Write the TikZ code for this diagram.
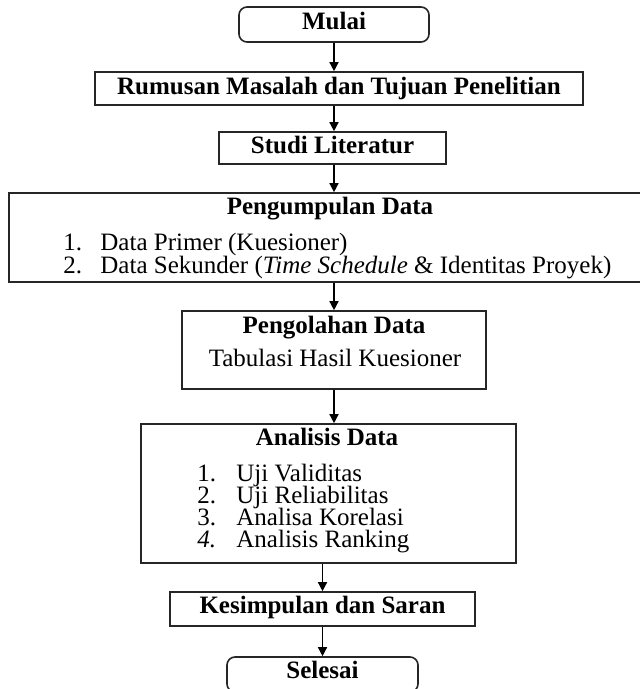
\documentclass[tikz,border=0pt]{standalone}
\usepackage{fontspec}
\setmainfont{Liberation Serif}
\usetikzlibrary{arrows.meta}
\begin{document}
\begin{tikzpicture}[x=0.5pt,y=-0.5pt,
  every node/.style={font=\fontsize{12.5}{15}\selectfont, inner sep=0pt},
  txt/.style={text height=8pt, text depth=2pt},
  stepbox/.style={draw=black!85, line width=0.8pt, fill=white},
  roundbox/.style={stepbox, rounded corners=4pt},
  ttl/.style={txt, font=\fontsize{12.5}{15}\selectfont\bfseries},
  item/.style={txt, anchor=west},
  arr/.style={draw=black, line width=0.7pt, -{Triangle[length=4.5pt,width=4.5pt]}}]
\useasboundingbox (0,0) rectangle (640,689);
\clip (0,0) rectangle (640,689);
\fill[white] (0,0) rectangle (640,689);

% boxes
\node[roundbox, minimum width=95pt, minimum height=17.5pt] (mulai) at (334,24.5) {};
\node[ttl] (tmulai) at (334,24) {Mulai};
\node[stepbox, minimum width=244pt, minimum height=16.5pt] (rum) at (339,88.5) {};
\node[ttl] (trum) at (339,88.5) {Rumusan Masalah dan Tujuan Penelitian};
\node[stepbox, minimum width=113.5pt, minimum height=16pt] (studi) at (332.5,148) {};
\node[ttl] (tstudi) at (332.5,148) {Studi Literatur};
\node[stepbox, minimum width=320.5pt, minimum height=44.5pt] (pk) at (329.5,237.5) {};
\node[ttl] (tpk) at (330,209) {Pengumpulan Data};
\node[item] (pk1n) at (63,245) {1.};
\node[item] (pk1) at (100,245) {Data Primer (Kuesioner)};
\node[item] (pk2n) at (63,267) {2.};
\node[item] (pk2) at (100,267) {Data Sekunder (\textit{Time Schedule} \& Identitas Proyek)};
\node[stepbox, minimum width=152pt, minimum height=39pt] (po) at (334,350) {};
\node[ttl] (tpo) at (334,327) {Pengolahan Data};
\node[txt] (po1) at (335,360) {Tabulasi Hasil Kuesioner};
\node[stepbox, minimum width=187.5pt, minimum height=69.5pt] (an) at (328.5,493.5) {};
\node[ttl] (tan) at (327,439) {Analisis Data};
\node[item] (an1n) at (197,475) {1.};
\node[item] (an1) at (236,475) {Uji Validitas};
\node[item] (an2n) at (197,497) {2.};
\node[item] (an2) at (236,497) {Uji Reliabilitas};
\node[item] (an3n) at (197,519) {3.};
\node[item] (an3) at (236,519) {Analisa Korelasi};
\node[item] (an4n) at (197,541) {\textit{4.}};
\node[item] (an4) at (236,541) {Analisis Ranking};
\node[stepbox, minimum width=152.5pt, minimum height=17pt] (kes) at (322.5,609) {};
\node[ttl] (tkes) at (322.5,607) {Kesimpulan dan Saran};
\node[roundbox, minimum width=95.5pt, minimum height=17.5pt] (sel) at (322.5,674.5) {};
\node[ttl] (tsel) at (322.5,672) {Selesai};

% connectors
\draw[arr] (mulai.south |- mulai.south) -- (mulai.south |- rum.north);
\draw[arr] (mulai.south |- rum.south) -- (mulai.south |- studi.north);
\draw[arr] (mulai.south |- studi.south) -- (mulai.south |- pk.north);
\draw[arr] (mulai.south |- pk.south) -- (mulai.south |- po.north);
\draw[arr] (mulai.south |- po.south) -- (mulai.south |- an.north);
\draw[arr] (kes.north |- an.south) -- (kes.north);
\draw[arr] (kes.south) -- (kes.south |- sel.north);
\end{tikzpicture}
\end{document}
